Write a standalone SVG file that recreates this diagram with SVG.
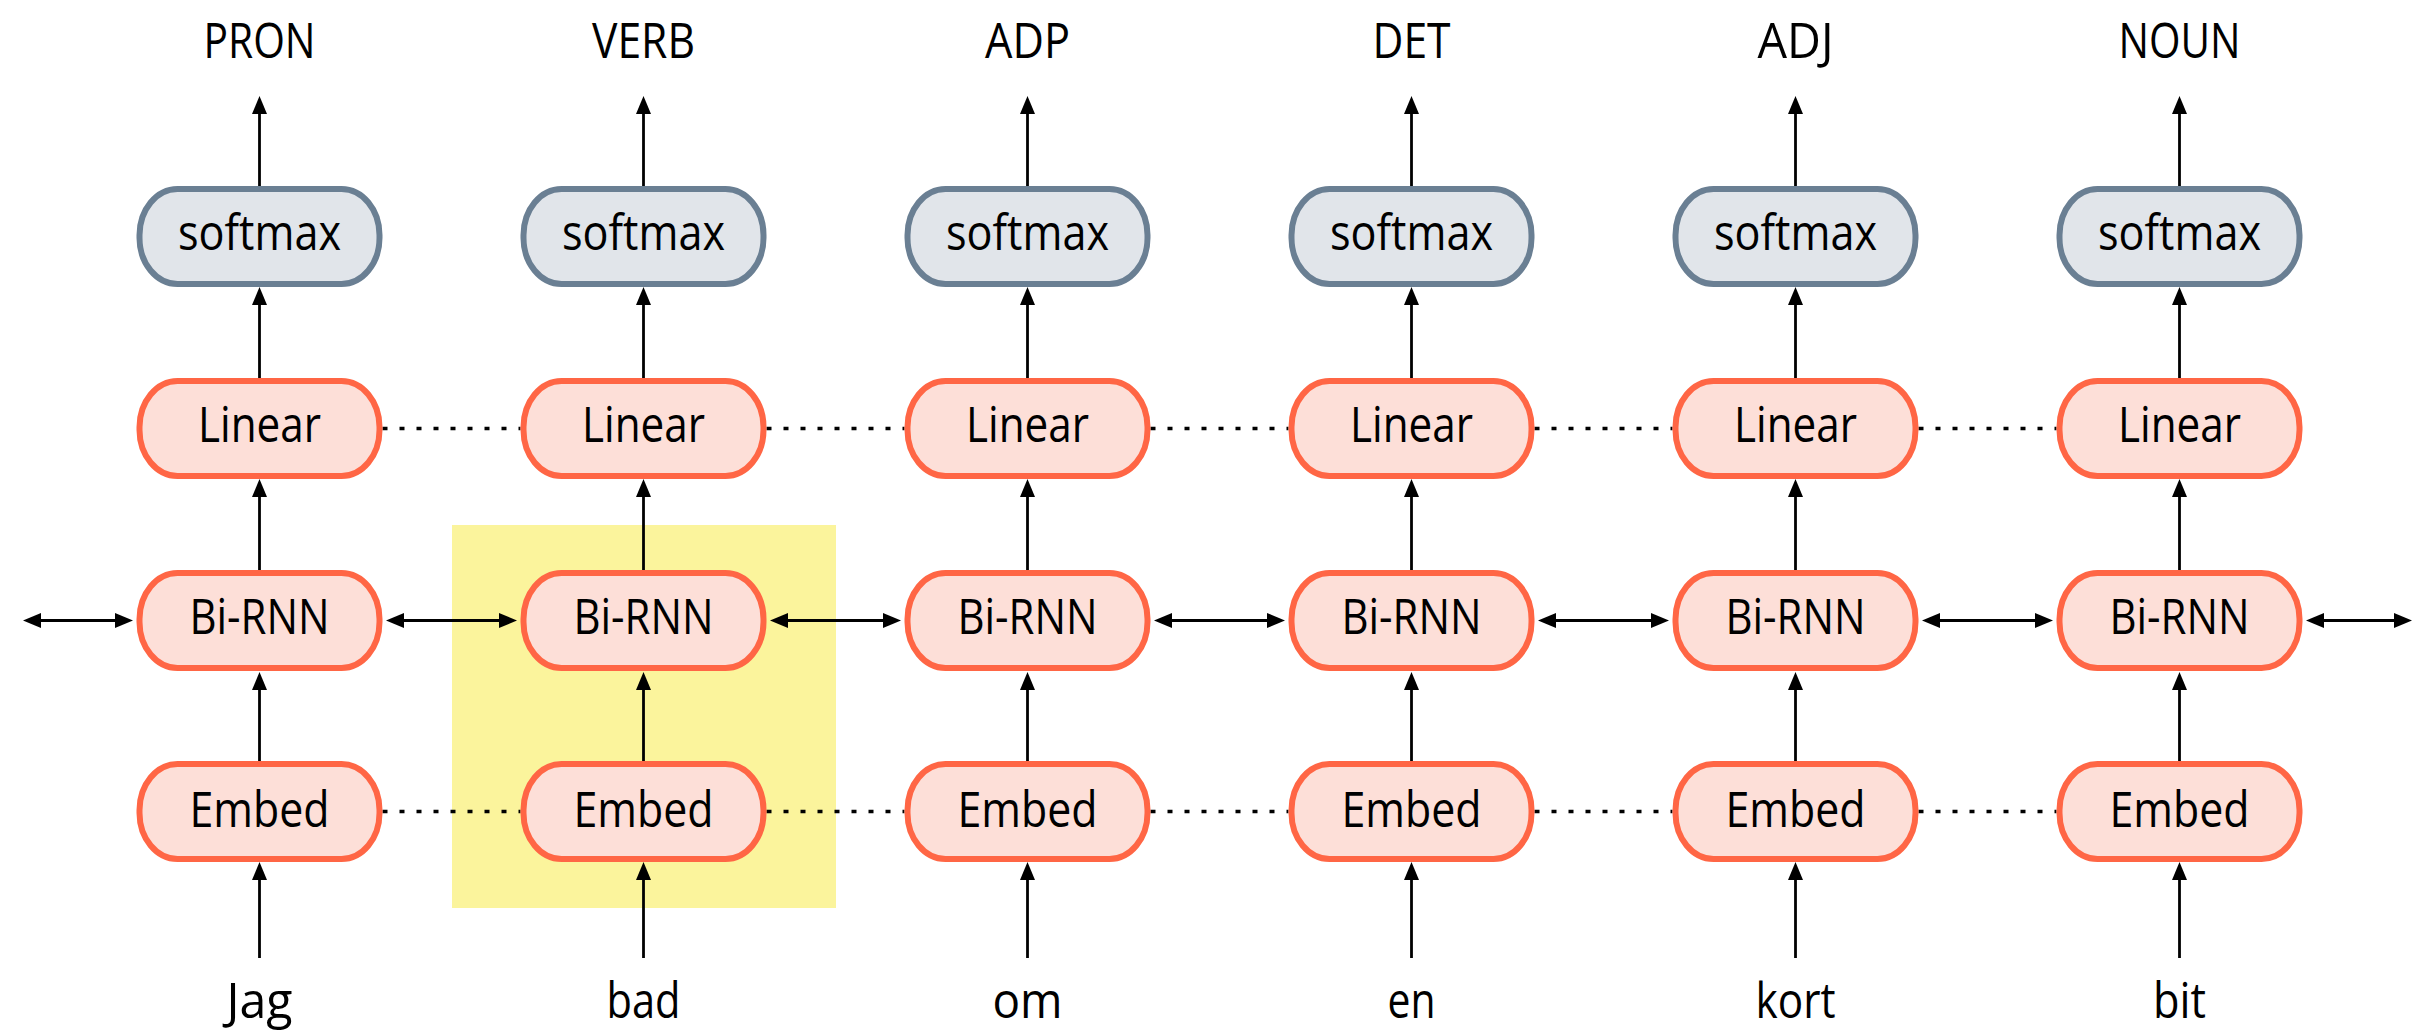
<svg xmlns="http://www.w3.org/2000/svg" width="2420" height="1031" viewBox="0 0 2420 1031">
  <style>
    .lbl { font-family: "Open Sans", "Noto Sans", "Liberation Sans", sans-serif; font-size: 50px; fill: #000; text-anchor: middle; }
    .box { stroke-width: 6; }
    .layer { fill: #FDDFD8; stroke: #FF6645; }
    .soft { fill: #E1E5EA; stroke: #6A7F93; }
    .arrow { stroke: #000; stroke-width: 2.8; fill: none; marker-end: url(#head); }
    .bi { stroke: #000; stroke-width: 2.8; fill: none; marker-start: url(#head); marker-end: url(#head); }
    .dots { stroke: #000; stroke-width: 3.5; fill: none; stroke-dasharray: 5 12; }
  </style>
  <defs>
    <marker id="head" markerUnits="userSpaceOnUse" viewBox="0 0 18 15" markerWidth="18" markerHeight="15" refX="10" refY="7.5" orient="auto-start-reverse">
      <path d="M0,0 L18,7.5 L0,15 z" fill="#000"/>
    </marker>
    <rect id="pill" x="-120" y="0" width="240" height="95" rx="38" ry="46"/>
  </defs>

  <rect width="2420" height="1031" fill="#fff"/>

  <!-- highlighted time step -->
  <rect id="focus" x="452" y="525" width="384" height="383" fill="#FBF49C"/>

  <g id="connectors">
    <!-- outputs -->
    <line class="arrow" x1="259.5" y1="186" x2="259.5" y2="104"/>
    <line class="arrow" x1="643.5" y1="186" x2="643.5" y2="104"/>
    <line class="arrow" x1="1027.5" y1="186" x2="1027.5" y2="104"/>
    <line class="arrow" x1="1411.5" y1="186" x2="1411.5" y2="104"/>
    <line class="arrow" x1="1795.5" y1="186" x2="1795.5" y2="104"/>
    <line class="arrow" x1="2179.5" y1="186" x2="2179.5" y2="104"/>
    <!-- Linear to softmax -->
    <line class="arrow" x1="259.5" y1="378" x2="259.5" y2="295"/>
    <line class="arrow" x1="643.5" y1="378" x2="643.5" y2="295"/>
    <line class="arrow" x1="1027.5" y1="378" x2="1027.5" y2="295"/>
    <line class="arrow" x1="1411.5" y1="378" x2="1411.5" y2="295"/>
    <line class="arrow" x1="1795.5" y1="378" x2="1795.5" y2="295"/>
    <line class="arrow" x1="2179.5" y1="378" x2="2179.5" y2="295"/>
    <!-- Bi-RNN to Linear -->
    <line class="arrow" x1="259.5" y1="570" x2="259.5" y2="487"/>
    <line class="arrow" x1="643.5" y1="570" x2="643.5" y2="487"/>
    <line class="arrow" x1="1027.5" y1="570" x2="1027.5" y2="487"/>
    <line class="arrow" x1="1411.5" y1="570" x2="1411.5" y2="487"/>
    <line class="arrow" x1="1795.5" y1="570" x2="1795.5" y2="487"/>
    <line class="arrow" x1="2179.5" y1="570" x2="2179.5" y2="487"/>
    <!-- Embed to Bi-RNN -->
    <line class="arrow" x1="259.5" y1="761" x2="259.5" y2="680"/>
    <line class="arrow" x1="643.5" y1="761" x2="643.5" y2="680"/>
    <line class="arrow" x1="1027.5" y1="761" x2="1027.5" y2="680"/>
    <line class="arrow" x1="1411.5" y1="761" x2="1411.5" y2="680"/>
    <line class="arrow" x1="1795.5" y1="761" x2="1795.5" y2="680"/>
    <line class="arrow" x1="2179.5" y1="761" x2="2179.5" y2="680"/>
    <!-- inputs -->
    <line class="arrow" x1="259.5" y1="958" x2="259.5" y2="870"/>
    <line class="arrow" x1="643.5" y1="958" x2="643.5" y2="870"/>
    <line class="arrow" x1="1027.5" y1="958" x2="1027.5" y2="870"/>
    <line class="arrow" x1="1411.5" y1="958" x2="1411.5" y2="870"/>
    <line class="arrow" x1="1795.5" y1="958" x2="1795.5" y2="870"/>
    <line class="arrow" x1="2179.5" y1="958" x2="2179.5" y2="870"/>
    <!-- recurrent links -->
    <line class="bi" x1="31" y1="620.5" x2="125" y2="620.5"/>
    <line class="bi" x1="394" y1="620.5" x2="509" y2="620.5"/>
    <line class="bi" x1="778" y1="620.5" x2="893" y2="620.5"/>
    <line class="bi" x1="1162" y1="620.5" x2="1277" y2="620.5"/>
    <line class="bi" x1="1546" y1="620.5" x2="1661" y2="620.5"/>
    <line class="bi" x1="1930" y1="620.5" x2="2045" y2="620.5"/>
    <line class="bi" x1="2314" y1="620.5" x2="2404" y2="620.5"/>
    <!-- shared weights -->
    <path class="dots" d="M382.5,428.5 H520.5 M766.5,428.5 H904.5 M1150.5,428.5 H1288.5 M1534.5,428.5 H1672.5 M1918.5,428.5 H2056.5"/>
    <path class="dots" d="M382.5,811.5 H520.5 M766.5,811.5 H904.5 M1150.5,811.5 H1288.5 M1534.5,811.5 H1672.5 M1918.5,811.5 H2056.5"/>
  </g>

  <!-- tags -->
  <g id="tags">
    <text class="lbl" x="259.5" y="58" textLength="112" lengthAdjust="spacingAndGlyphs">PRON</text>
    <text class="lbl" x="643.5" y="58" textLength="103" lengthAdjust="spacingAndGlyphs">VERB</text>
    <text class="lbl" x="1027.5" y="58" textLength="85" lengthAdjust="spacingAndGlyphs">ADP</text>
    <text class="lbl" x="1411.5" y="58" textLength="78" lengthAdjust="spacingAndGlyphs">DET</text>
    <text class="lbl" x="1795.5" y="58" textLength="76" lengthAdjust="spacingAndGlyphs">ADJ</text>
    <text class="lbl" x="2179.5" y="58" textLength="122" lengthAdjust="spacingAndGlyphs">NOUN</text>
  </g>

  <!-- words -->
  <g id="words">
    <text class="lbl" x="259.5" y="1018" textLength="66" lengthAdjust="spacingAndGlyphs">Jag</text>
    <text class="lbl" x="643.5" y="1018" textLength="74" lengthAdjust="spacingAndGlyphs">bad</text>
    <text class="lbl" x="1027.5" y="1018" textLength="70" lengthAdjust="spacingAndGlyphs">om</text>
    <text class="lbl" x="1411.5" y="1018" textLength="48" lengthAdjust="spacingAndGlyphs">en</text>
    <text class="lbl" x="1795.5" y="1018" textLength="80" lengthAdjust="spacingAndGlyphs">kort</text>
    <text class="lbl" x="2179.5" y="1018" textLength="53" lengthAdjust="spacingAndGlyphs">bit</text>
  </g>

  <!-- column 1 -->
  <g id="softmax-1" transform="translate(259.5,189)"><use href="#pill" class="box soft"/><text class="lbl" y="61" textLength="163" lengthAdjust="spacingAndGlyphs">softmax</text></g>
  <g id="linear-1" transform="translate(259.5,381)"><use href="#pill" class="box layer"/><text class="lbl" y="61" textLength="123" lengthAdjust="spacingAndGlyphs">Linear</text></g>
  <g id="birnn-1" transform="translate(259.5,573)"><use href="#pill" class="box layer"/><text class="lbl" y="61" textLength="140" lengthAdjust="spacingAndGlyphs">Bi-RNN</text></g>
  <g id="embed-1" transform="translate(259.5,764)"><use href="#pill" class="box layer"/><text class="lbl" y="63" textLength="140" lengthAdjust="spacingAndGlyphs">Embed</text></g>

  <!-- column 2 -->
  <g id="softmax-2" transform="translate(643.5,189)"><use href="#pill" class="box soft"/><text class="lbl" y="61" textLength="163" lengthAdjust="spacingAndGlyphs">softmax</text></g>
  <g id="linear-2" transform="translate(643.5,381)"><use href="#pill" class="box layer"/><text class="lbl" y="61" textLength="123" lengthAdjust="spacingAndGlyphs">Linear</text></g>
  <g id="birnn-2" transform="translate(643.5,573)"><use href="#pill" class="box layer"/><text class="lbl" y="61" textLength="140" lengthAdjust="spacingAndGlyphs">Bi-RNN</text></g>
  <g id="embed-2" transform="translate(643.5,764)"><use href="#pill" class="box layer"/><text class="lbl" y="63" textLength="140" lengthAdjust="spacingAndGlyphs">Embed</text></g>

  <!-- column 3 -->
  <g id="softmax-3" transform="translate(1027.5,189)"><use href="#pill" class="box soft"/><text class="lbl" y="61" textLength="163" lengthAdjust="spacingAndGlyphs">softmax</text></g>
  <g id="linear-3" transform="translate(1027.5,381)"><use href="#pill" class="box layer"/><text class="lbl" y="61" textLength="123" lengthAdjust="spacingAndGlyphs">Linear</text></g>
  <g id="birnn-3" transform="translate(1027.5,573)"><use href="#pill" class="box layer"/><text class="lbl" y="61" textLength="140" lengthAdjust="spacingAndGlyphs">Bi-RNN</text></g>
  <g id="embed-3" transform="translate(1027.5,764)"><use href="#pill" class="box layer"/><text class="lbl" y="63" textLength="140" lengthAdjust="spacingAndGlyphs">Embed</text></g>

  <!-- column 4 -->
  <g id="softmax-4" transform="translate(1411.5,189)"><use href="#pill" class="box soft"/><text class="lbl" y="61" textLength="163" lengthAdjust="spacingAndGlyphs">softmax</text></g>
  <g id="linear-4" transform="translate(1411.5,381)"><use href="#pill" class="box layer"/><text class="lbl" y="61" textLength="123" lengthAdjust="spacingAndGlyphs">Linear</text></g>
  <g id="birnn-4" transform="translate(1411.5,573)"><use href="#pill" class="box layer"/><text class="lbl" y="61" textLength="140" lengthAdjust="spacingAndGlyphs">Bi-RNN</text></g>
  <g id="embed-4" transform="translate(1411.5,764)"><use href="#pill" class="box layer"/><text class="lbl" y="63" textLength="140" lengthAdjust="spacingAndGlyphs">Embed</text></g>

  <!-- column 5 -->
  <g id="softmax-5" transform="translate(1795.5,189)"><use href="#pill" class="box soft"/><text class="lbl" y="61" textLength="163" lengthAdjust="spacingAndGlyphs">softmax</text></g>
  <g id="linear-5" transform="translate(1795.5,381)"><use href="#pill" class="box layer"/><text class="lbl" y="61" textLength="123" lengthAdjust="spacingAndGlyphs">Linear</text></g>
  <g id="birnn-5" transform="translate(1795.5,573)"><use href="#pill" class="box layer"/><text class="lbl" y="61" textLength="140" lengthAdjust="spacingAndGlyphs">Bi-RNN</text></g>
  <g id="embed-5" transform="translate(1795.5,764)"><use href="#pill" class="box layer"/><text class="lbl" y="63" textLength="140" lengthAdjust="spacingAndGlyphs">Embed</text></g>

  <!-- column 6 -->
  <g id="softmax-6" transform="translate(2179.5,189)"><use href="#pill" class="box soft"/><text class="lbl" y="61" textLength="163" lengthAdjust="spacingAndGlyphs">softmax</text></g>
  <g id="linear-6" transform="translate(2179.5,381)"><use href="#pill" class="box layer"/><text class="lbl" y="61" textLength="123" lengthAdjust="spacingAndGlyphs">Linear</text></g>
  <g id="birnn-6" transform="translate(2179.5,573)"><use href="#pill" class="box layer"/><text class="lbl" y="61" textLength="140" lengthAdjust="spacingAndGlyphs">Bi-RNN</text></g>
  <g id="embed-6" transform="translate(2179.5,764)"><use href="#pill" class="box layer"/><text class="lbl" y="63" textLength="140" lengthAdjust="spacingAndGlyphs">Embed</text></g>
</svg>
